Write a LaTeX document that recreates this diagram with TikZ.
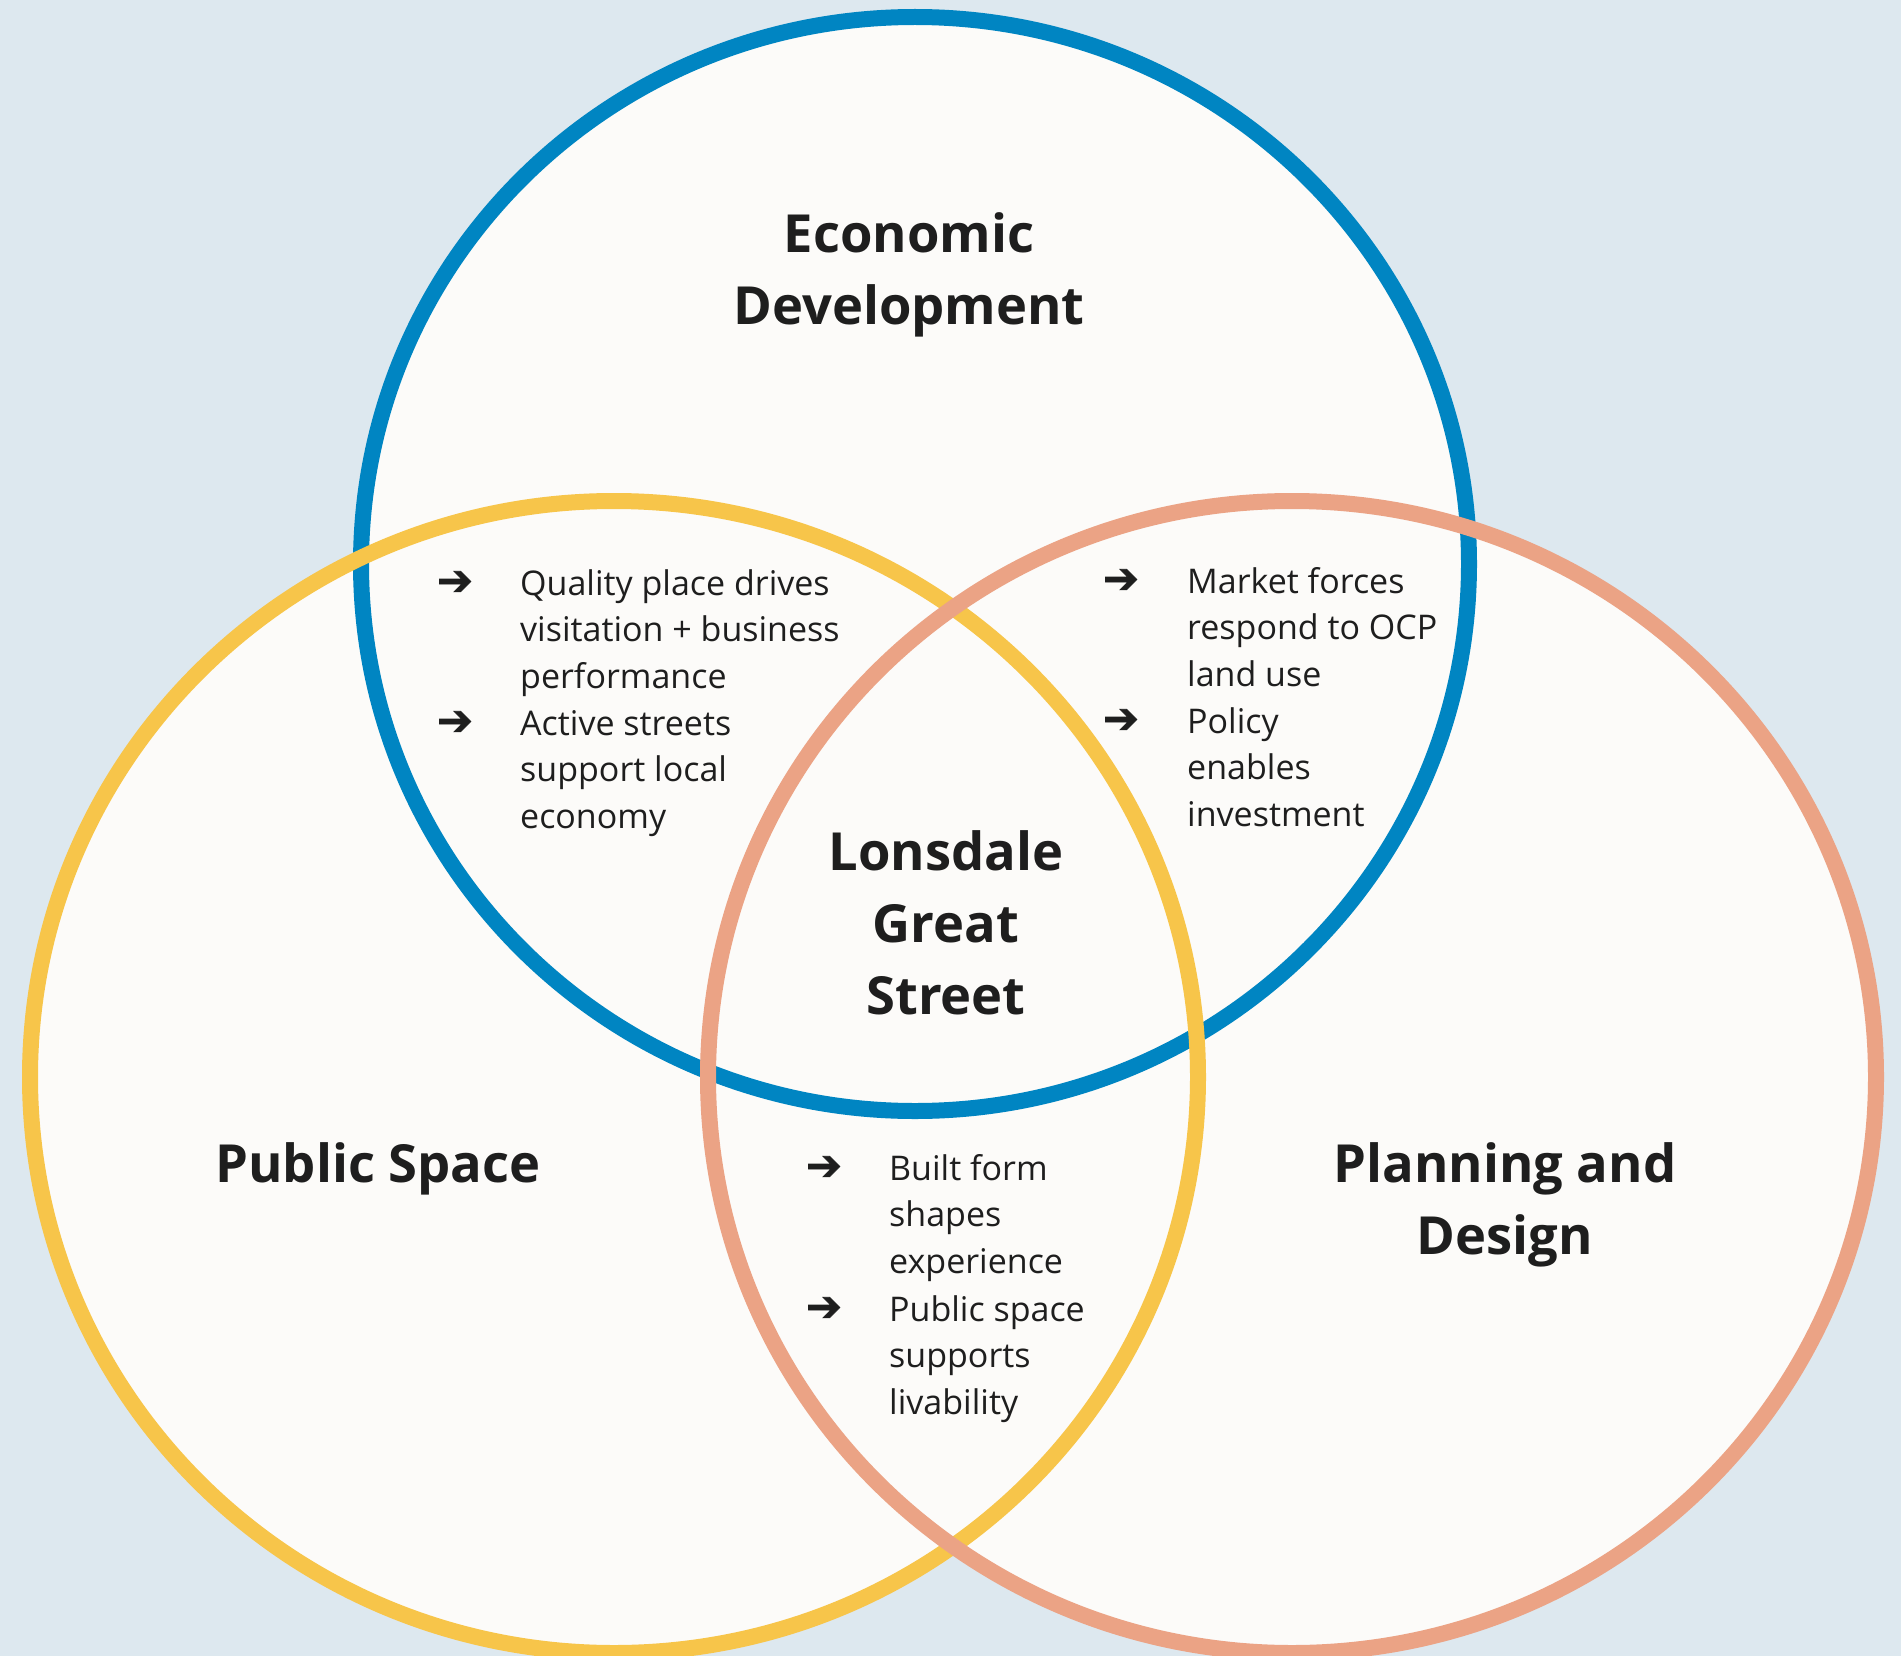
\documentclass[tikz,border=0pt]{standalone}
\usepackage{fontspec}
\setmainfont{Open Sans}
\newfontfamily\symfont[FakeBold=1.5]{DejaVu Sans}
\definecolor{bgc}{HTML}{DDE8EF}
\definecolor{paper}{HTML}{FCFBF9}
\definecolor{ringblue}{HTML}{0085C2}
\definecolor{ringyellow}{HTML}{F7C54A}
\definecolor{ringsalmon}{HTML}{EBA385}
\definecolor{ink}{HTML}{1E1E1E}
\newcommand\ctext[2]{\vtop{\hsize=#1\parindent=0pt\parskip=0pt\centering #2\par}}
\newcommand\ltext[2]{\vtop{\hsize=#1\parindent=0pt\parskip=0pt\raggedright #2\par}}
\begin{document}
\begin{tikzpicture}[x=1pt,y=-1pt,
  title/.style={font=\fontsize{52.5}{72}\selectfont\bfseries, text=ink, inner sep=0pt, anchor=base},
  body/.style={font=\fontsize{34}{46.8}\selectfont, text=ink, inner sep=0pt, anchor=base west},
  arr/.style={font=\fontsize{43}{46}\symfont, text=ink, inner sep=0pt, anchor=base},
  ring/.style={line width=16pt}]
\useasboundingbox (0,0) rectangle (1901,1656);
\fill[bgc] (0,0) rectangle (1901,1656);
% fills
\fill[paper] (915,564) ellipse[x radius=554, y radius=547];
\fill[paper] (614,1077) ellipse[x radius=584, y radius=576];
\fill[paper] (1292,1077) ellipse[x radius=584, y radius=576];
% rings
\draw[ring, ringblue] (915,564) ellipse[x radius=554, y radius=547];
\draw[ring, ringyellow] (614,1077) ellipse[x radius=584, y radius=576];
\draw[ring, ringsalmon] (1292,1077) ellipse[x radius=584, y radius=576];
% titles
\node[title] (econ) at (909,253) {\ctext{700pt}{Economic\\Development}};
\node[title] (core) at (946,870) {\ctext{500pt}{Lonsdale\\Great\\Street}};
\node[title] (pub) at (378,1182) {\ctext{600pt}{Public Space}};
\node[title] (plan) at (1505,1182) {\ctext{600pt}{Planning and\\Design}};
% left block
\node[arr] (a1) at (455,595) {➔};
\node[body] (t1) at (520,595) {\ltext{400pt}{Quality place drives\\visitation + business\\performance}};
\node[arr] (a2) at (455,735) {➔};
\node[body] (t2) at (520,735) {\ltext{400pt}{Active streets\\support local\\economy}};
% right block
\node[arr] (a3) at (1121,593) {➔};
\node[body] (t3) at (1187,593) {\ltext{400pt}{Market forces\\respond to OCP\\land use}};
\node[arr] (a4) at (1121,733) {➔};
\node[body] (t4) at (1187,733) {\ltext{400pt}{Policy\\enables\\investment}};
% bottom block
\node[arr] (a5) at (824,1180) {➔};
\node[body] (t5) at (889,1180) {\ltext{400pt}{Built form\\shapes\\experience}};
\node[arr] (a6) at (824,1321) {➔};
\node[body] (t6) at (889,1321) {\ltext{400pt}{Public space\\supports\\livability}};
\end{tikzpicture}
\end{document}
